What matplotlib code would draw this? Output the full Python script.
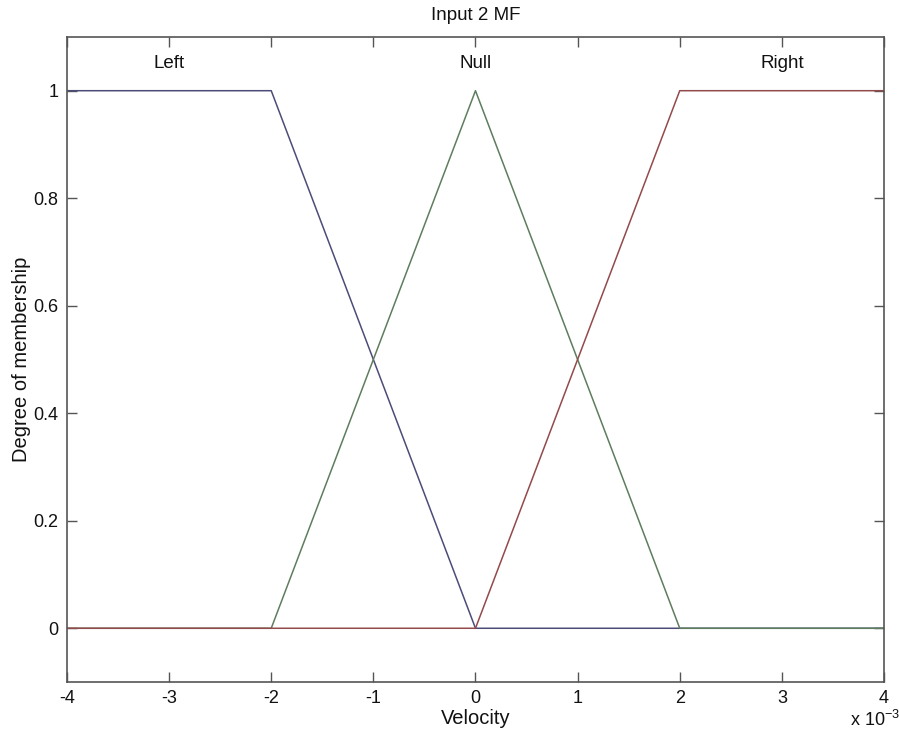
import matplotlib
matplotlib.use("Agg")
import matplotlib.pyplot as plt

plt.rcParams['font.family'] = ['Liberation Sans', 'DejaVu Sans']
plt.rcParams['mathtext.fontset'] = 'custom'
plt.rcParams['mathtext.rm'] = 'Liberation Sans'
plt.rcParams['mathtext.it'] = 'Liberation Sans'

# Membership function breakpoints (velocity in units of 1e-3)
left_x = [-4, -2, 0, 4]
left_y = [1, 1, 0, 0]
null_x = [-4, -2, 0, 2, 4]
null_y = [0, 0, 1, 0, 0]
right_x = [-4, 0, 2, 4]
right_y = [0, 0, 1, 1]

mf_names = ["Left", "Null", "Right"]
mf_label_x = [-3, 0, 3]
mf_colors = ["#4c4c78", "#5e7d5e", "#934a4a"]

x_ticks = [-4, -3, -2, -1, 0, 1, 2, 3, 4]
y_ticks = [0, 0.2, 0.4, 0.6, 0.8, 1]
y_tick_labels = ["0", "0.2", "0.4", "0.6", "0.8", "1"]

fig = plt.figure(figsize=(8.99, 7.39), dpi=100)
ax = fig.add_axes([0.0745, 0.0771, 0.9088, 0.8729])

for xs, ys, c in zip([left_x, null_x, right_x], [left_y, null_y, right_y], mf_colors):
    ax.plot(xs, ys, color=c, lw=1.1)

for name, lx in zip(mf_names, mf_label_x):
    ax.text(lx, 1.05, name, ha='center', va='center', fontsize=13.5, color='#111111')

ax.set_xlim(-4, 4)
ax.set_ylim(-0.1, 1.1)
ax.set_xticks(x_ticks)
ax.set_xticklabels([str(t) for t in x_ticks])
ax.set_yticks(y_ticks)
ax.set_yticklabels(y_tick_labels)
ax.tick_params(direction='in', length=7, width=1, top=True, right=True,
               labelsize=13, colors='#555555', labelcolor='#111111', pad=6)
for s in ax.spines.values():
    s.set_color('#555555')
    s.set_linewidth(1.2)

ax.set_title("Input 2 MF", fontsize=13.5, color='#111111', pad=12)
ax.set_xlabel("Velocity", fontsize=14.5, color='#111111', labelpad=1)
ax.set_ylabel("Degree of membership", fontsize=14.5, color='#111111', labelpad=2)
fig.text(0.946, 0.012, r"x 10$^{-3}$", fontsize=13, color='#111111', ha='left', va='bottom')

fig.savefig("out.png", dpi=100)
